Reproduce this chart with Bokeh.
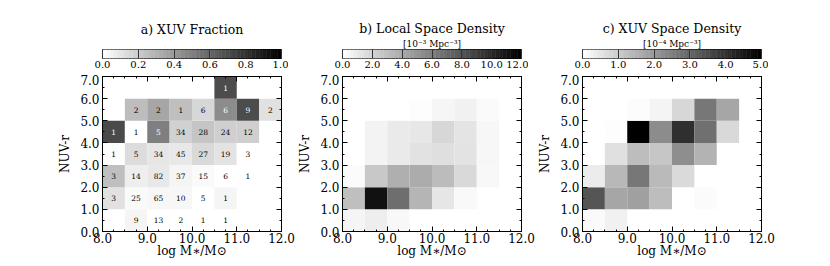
import numpy as np
from bokeh.plotting import figure
from bokeh.layouts import row, column
from bokeh.models import (LinearAxis, Title, FixedTicker, ColumnDataSource,
                          LinearColorMapper, Range1d, PrintfTickFormatter, Spacer)
from bokeh.palettes import Greys256
from bokeh.core.properties import value
from bokeh.embed import file_html
from bokeh.resources import INLINE

# ---------------- data ----------------
mass_centers = [8.25, 8.75, 9.25, 9.75, 10.25, 10.75, 11.25, 11.75]
color_centers = [0.5, 1.5, 2.5, 3.5, 4.5, 5.5, 6.5]

# a) XUV fraction, rows from NUV-r 0-1 (bottom) to 6-7 (top)
frac_rows = [
    [None, 0.04, 0.0, 0.0, 0.0, 0.0, None, None],
    [0.12, 0.02, 0.035, 0.035, 0.0, 0.04, None, None],
    [0.25, 0.07, 0.09, 0.04, 0.02, 0.0, 0.0, None],
    [0.01, 0.14, 0.10, 0.09, 0.15, 0.11, 0.0, None],
    [0.71, 0.0, 0.50, 0.18, 0.23, 0.19, 0.19, None],
    [None, 0.26, 0.35, 0.25, 0.16, 0.45, 0.70, 0.12],
    [None, None, None, None, None, 0.70, None, None],
]
count_rows = [
    [None, 9, 13, 2, 1, 1, None, None],
    [3, 25, 65, 10, 5, 1, None, None],
    [3, 14, 82, 37, 15, 6, 1, None],
    [1, 5, 34, 45, 27, 19, 3, None],
    [1, 1, 5, 34, 28, 24, 12, None],
    [None, 2, 2, 1, 6, 6, 9, 2],
    [None, None, None, None, None, 1, None, None],
]
# b) local space density [1e-3 Mpc^-3]
dens_rows = [
    [0.5, 0.8, 0.35, None, None, None, None, None],
    [3.0, 11.2, 6.8, 3.5, 1.2, 0.3, None, None],
    [0.2, 2.6, 3.75, 3.9, 3.15, 1.8, 0.35, None],
    [None, 0.6, 1.0, 1.4, 1.5, 1.35, 0.4, None],
    [None, 0.6, 1.0, 1.15, 1.9, 1.3, 0.4, None],
    [None, None, None, 0.1, 0.45, 0.7, 0.25, None],
    [None, None, None, None, None, None, None, None],
]
# c) XUV space density [1e-4 Mpc^-3]
xuv_rows = [
    [0.1, 0.29, None, None, None, None, None, None],
    [3.33, 1.75, 1.86, 1.29, None, 0.08, None, None],
    [0.39, 1.39, 2.67, 1.35, 0.73, None, None, None],
    [None, 0.61, 1.29, 1.12, 2.22, 1.49, None, None],
    [None, 0.04, 5.0, 2.25, 4.08, 2.8, 0.76, None],
    [None, None, 0.06, 0.22, 0.8, 2.67, 1.75, None],
    [None, None, None, None, None, None, None, None],
]

x_ticks = [8.0, 9.0, 10.0, 11.0, 12.0]
y_ticks = [0.0, 1.0, 2.0, 3.0, 4.0, 5.0, 6.0, 7.0]
cb_ticks_a = [0.0, 0.2, 0.4, 0.6, 0.8, 1.0]
cb_ticks_b = [0.0, 2.0, 4.0, 6.0, 8.0, 10.0, 12.0]
cb_ticks_c = [0.0, 1.0, 2.0, 3.0, 4.0, 5.0]

FONT = "DejaVu Serif"
GREYS = list(reversed(Greys256))  # white -> black
FW, FH = 179, 155
LEFT, RIGHT = 40, 14


def cells(rows, counts=None):
    xs, ys, vs, ts, tc = [], [], [], [], []
    for j, r in enumerate(rows):
        for i, v in enumerate(r):
            if v is None:
                continue
            xs.append(mass_centers[i])
            ys.append(color_centers[j])
            vs.append(v)
            if counts is not None:
                c = counts[j][i]
                ts.append("" if c is None else str(c))
                tc.append("white" if v >= 0.4 else "black")
    d = dict(x=xs, y=ys, v=vs)
    if counts is not None:
        d["t"] = ts
        d["tc"] = tc
    return ColumnDataSource(d)


def style_axis(ax, labels=True):
    ax.axis_line_color = "black"
    ax.major_tick_line_color = "black"
    ax.minor_tick_line_color = "black"
    ax.major_tick_in = 5
    ax.major_tick_out = 0
    ax.minor_tick_in = 2
    ax.minor_tick_out = 0
    ax.major_label_text_font = FONT
    ax.axis_label_text_font = FONT
    ax.axis_label_text_font_style = "normal"
    ax.axis_label_text_font_size = "12px"
    ax.axis_label_text_color = "black"
    if labels:
        ax.major_label_text_font_size = "12px"
        ax.major_label_text_color = "black"
    else:
        ax.major_label_text_font_size = "1px"
        ax.major_label_text_color = None
        ax.major_label_standoff = 0


def panel(rows, vmax, title, unit, cb_ticks, counts=None):
    mapper = LinearColorMapper(palette=GREYS, low=0, high=vmax)

    # ---- colour bar figure ----
    cb = figure(frame_width=FW, frame_height=9, x_range=Range1d(0, vmax),
                y_range=Range1d(0, 1), output_backend="svg",
                toolbar_location=None, title=None, y_axis_location=None,
                min_border_left=LEFT, min_border_right=RIGHT,
                min_border_top=49, min_border_bottom=16)
    n = 48
    edges = np.linspace(0, vmax, n + 1)
    cbsrc = ColumnDataSource(dict(l=edges[:-1], r=edges[1:],
                                  v=(edges[:-1] + edges[1:]) / 2))
    cb.quad(left="l", right="r", bottom=0, top=1, source=cbsrc,
            fill_color={"field": "v", "transform": mapper},
            line_color={"field": "v", "transform": mapper}, line_width=0.5)
    cb.xgrid.visible = False
    cb.ygrid.visible = False
    cb.outline_line_color = "black"
    cb.outline_line_width = 1
    ax = cb.xaxis[0]
    ax.ticker = FixedTicker(ticks=cb_ticks, minor_ticks=[])
    ax.formatter = PrintfTickFormatter(format="%.1f")
    ax.axis_line_color = None
    ax.major_tick_in = 9
    ax.major_tick_out = 0
    ax.major_tick_line_color = "#333333"
    ax.major_label_text_font = FONT
    ax.major_label_text_font_size = "10px"
    ax.major_label_text_color = "black"
    ax.major_label_standoff = 2
    if unit:
        cb.add_layout(Title(text=unit, align="center", text_font=FONT,
                            text_font_size="9px", text_font_style="normal",
                            text_color="black", standoff=1), "above")
        tstand = 2
    else:
        tstand = 26
    cb.add_layout(Title(text=title, align="center", text_font=FONT,
                        text_font_size="12.5px", text_font_style="normal",
                        text_color="black", standoff=tstand), "above")

    # ---- main heat map ----
    p = figure(frame_width=FW, frame_height=FH, x_range=Range1d(8, 12),
               y_range=Range1d(0, 7), output_backend="svg",
               toolbar_location=None, title=None,
               min_border_left=LEFT, min_border_right=RIGHT,
               min_border_top=2, min_border_bottom=28)
    src = cells(rows, counts)
    p.rect(x="x", y="y", width=0.5, height=1.0, source=src,
           fill_color={"field": "v", "transform": mapper},
           line_color=None)
    if counts is not None:
        p.text(x="x", y="y", text="t", source=src, text_align="center",
               text_baseline="middle", text_font=value(FONT),
               text_font_size="7.5px", text_color="tc")
    p.xgrid.visible = False
    p.ygrid.visible = False
    p.outline_line_color = "black"
    p.outline_line_width = 1

    xt = FixedTicker(ticks=x_ticks, minor_ticks=list(np.arange(8.0, 12.01, 0.25)))
    yt = FixedTicker(ticks=y_ticks, minor_ticks=list(np.arange(0.0, 7.01, 0.5)))
    fmt = PrintfTickFormatter(format="%.1f")

    xa = p.xaxis[0]
    xa.ticker = xt
    xa.formatter = fmt
    xa.axis_label = "log M\u2217/M\u2299"
    style_axis(xa)
    xa.major_label_standoff = 1
    xa.axis_label_standoff = -2

    ya = p.yaxis[0]
    ya.ticker = yt
    ya.formatter = fmt
    ya.axis_label = "NUV-r"
    style_axis(ya)
    ya.major_label_standoff = 3
    ya.axis_label_standoff = 5

    top = LinearAxis(ticker=xt, formatter=fmt)
    style_axis(top, labels=False)
    p.add_layout(top, "above")
    rgt = LinearAxis(ticker=yt, formatter=fmt)
    style_axis(rgt, labels=False)
    p.add_layout(rgt, "right")

    return column(cb, p)


pa = panel(frac_rows, 1.0, "a) XUV Fraction", None, cb_ticks_a, count_rows)
pb = panel(dens_rows, 12.0, "b) Local Space Density",
           "[10\u207b\u00b3 Mpc\u207b\u00b3]", cb_ticks_b)
pc = panel(xuv_rows, 5.0, "c) XUV Space Density",
           "[10\u207b\u2074 Mpc\u207b\u00b3]", cb_ticks_c)

layout = row(Spacer(width=55), pa, pb, pc)
open("out.html", "w").write(file_html(layout, INLINE))
